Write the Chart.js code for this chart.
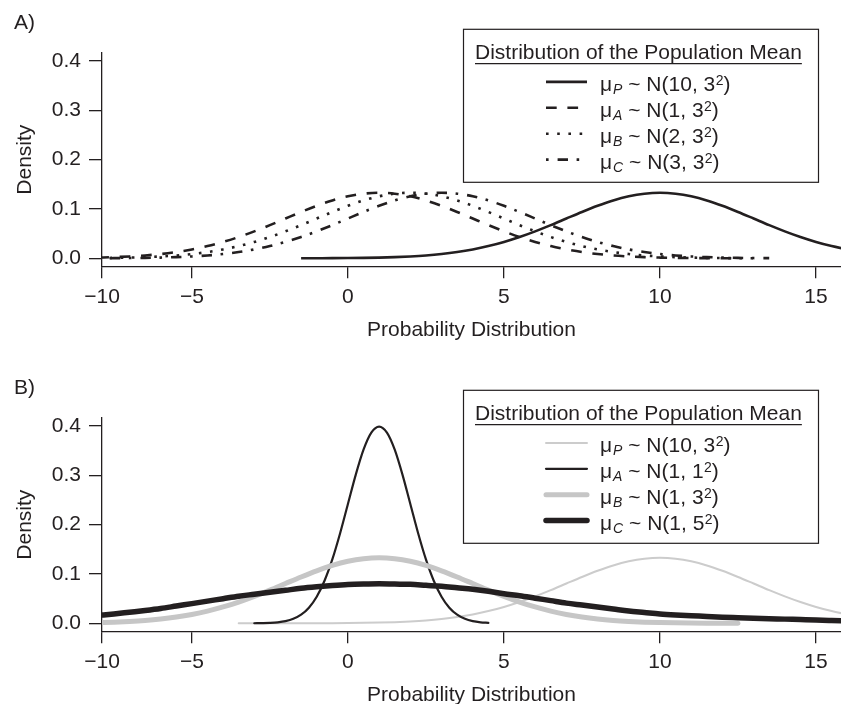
<!DOCTYPE html>
<html>
<head>
<meta charset="utf-8">
<script src="https://cdn.jsdelivr.net/npm/chart.js@4.4.1/dist/chart.umd.min.js"></script>
<style>
  html, body { margin: 0; padding: 0; background: #fff; overflow: hidden; width: 841px; height: 704px; }
  .panel { position: absolute; left: 0; width: 841px; height: 352px; }
  #panelA { top: 0; }
  #panelB { top: 365px; }
</style>
</head>
<body>
<div class="panel" id="panelA"><canvas id="chartA" width="841" height="352"></canvas></div>
<div class="panel" id="panelB"><canvas id="chartB" width="841" height="352"></canvas></div>
<script>
// x positions shared by most curves
const gridX = [-8, -7.5, -7, -6.5, -6, -5.5, -5, -4.5, -4, -3.5, -3, -2.5, -2, -1.5, -1, -0.5,
  0, 0.5, 1, 1.5, 2, 2.5, 3, 3.5, 4, 4.5, 5, 5.5, 6, 6.5, 7, 7.5, 8, 8.5, 9, 9.5,
  10, 10.5, 11, 11.5, 12, 12.5, 13, 13.5, 14, 14.5, 15, 15.5, 16];

// panel A densities (null = curve not drawn there)
const densityPA = [null, null, null, null, null, null, null, null, null, null, null, null, null,
  .0001, .0002, .0003, .0005, .0009, .0015, .0024, .0038, .0058, .0087, .0127, .0180, .0248, .0332,
  .0432, .0547, .0673, .0807, .0940, .1065, .1174, .1258, .1311, .1330, .1311, .1258, .1174, .1065,
  .0940, .0807, .0673, .0547, .0432, .0332, .0248, .0180];
const densityAA = [.0015, .0024, .0038, .0058, .0087, .0127, .0180, .0248, .0332, .0432, .0547, .0673,
  .0807, .0940, .1065, .1174, .1258, .1311, .1330, .1311, .1258, .1174, .1065, .0940, .0807, .0673,
  .0547, .0432, .0332, .0248, .0180, .0127, .0087, .0058, .0038, .0024, .0015, .0009, .0005, .0003,
  .0002, .0001, null, null, null, null, null, null, null];
const densityBA = [.0005, .0009, .0015, .0024, .0038, .0058, .0087, .0127, .0180, .0248, .0332, .0432,
  .0547, .0673, .0807, .0940, .1065, .1174, .1258, .1311, .1330, .1311, .1258, .1174, .1065, .0940,
  .0807, .0673, .0547, .0432, .0332, .0248, .0180, .0127, .0087, .0058, .0038, .0024, .0015, .0009,
  .0005, .0003, .0002, null, null, null, null, null, null];
const densityCA = [.0002, .0003, .0005, .0009, .0015, .0024, .0038, .0058, .0087, .0127, .0180, .0248,
  .0332, .0432, .0547, .0673, .0807, .0940, .1065, .1174, .1258, .1311, .1330, .1311, .1258, .1174,
  .1065, .0940, .0807, .0673, .0547, .0432, .0332, .0248, .0180, .0127, .0087, .0058, .0038, .0024,
  .0015, .0009, .0005, .0003, null, null, null, null, null];

// panel B densities
const densityPB = [null, null, null, null, null, null, null, null, null,
  .0000, .0000, .0000, .0000,
  .0001, .0002, .0003, .0005, .0009, .0015, .0024, .0038, .0058, .0087, .0127, .0180, .0248, .0332,
  .0432, .0547, .0673, .0807, .0940, .1065, .1174, .1258, .1311, .1330, .1311, .1258, .1174, .1065,
  .0940, .0807, .0673, .0547, .0432, .0332, .0248, .0180];
const narrowX = [-3, -2.75, -2.5, -2.25, -2, -1.75, -1.5, -1.25, -1, -0.75, -0.5, -0.25, 0, 0.25, 0.5,
  0.75, 1, 1.25, 1.5, 1.75, 2, 2.25, 2.5, 2.75, 3, 3.25, 3.5, 3.75, 4, 4.25, 4.5];
const densityAB = [.0001, .0004, .0009, .0020, .0044, .0091, .0175, .0317, .0540, .0863, .1295, .1826,
  .2420, .3011, .3521, .3867, .3989, .3867, .3521, .3011, .2420, .1826, .1295, .0863, .0540, .0317,
  .0175, .0091, .0044, .0020, .0009];
const densityBB = [.0015, .0024, .0038, .0058, .0087, .0127, .0180, .0248, .0332, .0432, .0547, .0673,
  .0807, .0940, .1065, .1174, .1258, .1311, .1330, .1311, .1258, .1174, .1065, .0940, .0807, .0673,
  .0547, .0432, .0332, .0248, .0180, .0127, .0087, .0058, .0038, .0024, .0015, .0009, .0005, .0003,
  .0002, .0001, null, null, null, null, null, null, null];
const densityCB = [.016, .019, .0225, .026, .030, .035, .040, .045, .050, .055, .059, .063, .067, .071,
  .074, .0765, .0785, .0795, .080, .0795, .079, .077, .075, .072, .069, .065, .060, .056, .051, .046,
  .041, .037, .033, .029, .025, .022, .019, .017, .0155, .014, .0125, .0115, .0105, .0095, .0085,
  .0075, .0065, .0058, .0052];

// axes
const xMin = -7.88, xMax = 15.8;
const xTickValues = [-7.88, -5, 0, 5, 10, 15];
const xTickLabels = ['\u221210', '\u22125', '0', '5', '10', '15'];
const yMin = -0.017, yMax = 0.417;
const yTickValues = [0, 0.1, 0.2, 0.3, 0.4];

// legend text
const legendTitle = 'Distribution of the Population Mean';
const legendSubs = ['P', 'A', 'B', 'C'];
const legendMeansA = ['10', '1', '2', '3'];
const legendSdsA = ['3', '3', '3', '3'];
const legendMeansB = ['10', '1', '1', '1'];
const legendSdsB = ['3', '1', '3', '5'];

const ink = '#231f20';
const fontFamily = '"Liberation Sans", Arial, sans-serif';
Chart.defaults.font.family = fontFamily;
Chart.defaults.font.size = 21;
Chart.defaults.color = ink;

function toPoints(xs, ys) {
  return xs.map((x, i) => ({ x: x, y: ys[i] })).filter(p => p.y !== null);
}

// legend box with sub/superscripts, plus the panel letter
const legendBox = {
  id: 'legendBox',
  afterDraw(chart, args, opts) {
    const ctx = chart.ctx;
    ctx.save();
    ctx.fillStyle = ink;
    ctx.textAlign = 'left';
    ctx.textBaseline = 'alphabetic';
    ctx.font = '21px ' + fontFamily;
    ctx.fillText(opts.panel, 14, 28.5);

    const top = opts.top;
    ctx.strokeStyle = ink;
    ctx.lineWidth = 1.2;
    ctx.strokeRect(463.5, top, 355, 153);

    ctx.fillText(legendTitle, 475, top + 29.2);
    const tw = ctx.measureText(legendTitle).width;
    ctx.beginPath();
    ctx.moveTo(475, top + 34.4);
    ctx.lineTo(475 + tw, top + 34.4);
    ctx.stroke();

    chart.data.datasets.forEach((ds, i) => {
      const ly = top + 52.6 + i * 25.9;
      ctx.save();
      ctx.strokeStyle = ds.borderColor;
      ctx.lineWidth = ds.borderWidth;
      ctx.lineCap = ds.borderCapStyle || 'butt';
      ctx.setLineDash(ds.borderDash || []);
      ctx.beginPath();
      ctx.moveTo(546, ly);
      ctx.lineTo(587, ly);
      ctx.stroke();
      ctx.restore();

      const by = ly + 9;
      let x = 600;
      ctx.font = '21px ' + fontFamily;
      ctx.fillText('\u03bc', x, by);
      x += ctx.measureText('\u03bc').width + 1;
      ctx.font = 'italic 14px ' + fontFamily;
      ctx.fillText(legendSubs[i], x, by + 3);
      x += ctx.measureText(legendSubs[i]).width;
      const mid = ' ~ N(' + opts.means[i] + ', ' + opts.sds[i];
      ctx.font = '21px ' + fontFamily;
      ctx.fillText(mid, x, by);
      x += ctx.measureText(mid).width + 0.5;
      ctx.font = '14px ' + fontFamily;
      ctx.fillText('2', x, by - 6);
      x += ctx.measureText('2').width;
      ctx.font = '21px ' + fontFamily;
      ctx.fillText(')', x, by);
    });
    ctx.restore();
  }
};

function buildOptions(legendCfg) {
  return {
    responsive: false,
    animation: false,
    events: [],
    layout: { padding: { top: 52.7, right: 0, bottom: 0, left: 0 } },
    elements: {
      point: { radius: 0 },
      line: { cubicInterpolationMode: 'monotone', borderJoinStyle: 'round', fill: false }
    },
    plugins: {
      legend: { display: false },
      tooltip: { enabled: false },
      legendBox: legendCfg
    },
    scales: {
      x: {
        type: 'linear',
        min: xMin,
        max: xMax,
        border: { color: ink, width: 1.3 },
        grid: { drawOnChartArea: false, color: ink, lineWidth: 1.3, tickLength: 11.6 },
        afterBuildTicks: s => { s.ticks = xTickValues.map(v => ({ value: v })); },
        afterFit: s => { s.height = 85.3; },
        ticks: {
          padding: 6.6, autoSkip: false, maxRotation: 0, color: ink,
          callback: (v, i) => xTickLabels[i]
        },
        title: {
          display: true, text: 'Probability Distribution', color: ink,
          padding: { top: 0, bottom: 9.4 }
        }
      },
      y: {
        type: 'linear',
        min: yMin,
        max: yMax,
        border: { color: ink, width: 1.3 },
        grid: { drawOnChartArea: false, color: ink, lineWidth: 1.3, tickLength: 13 },
        afterBuildTicks: s => { s.ticks = yTickValues.map(v => ({ value: v })); },
        afterFit: s => { s.width = 102; },
        ticks: { padding: 8, color: ink, callback: v => v.toFixed(1) },
        title: {
          display: true, text: 'Density', color: ink,
          padding: { top: 12.2, bottom: 0 }
        }
      }
    }
  };
}

new Chart(document.getElementById('chartA'), {
  type: 'line',
  data: {
    datasets: [
      { data: toPoints(gridX, densityPA), borderColor: ink, borderWidth: 2.6, borderDash: [], order: 4 },
      { data: toPoints(gridX, densityAA), borderColor: ink, borderWidth: 2.6, borderDash: [10.7, 10.7], order: 3 },
      { data: toPoints(gridX, densityBA), borderColor: ink, borderWidth: 2.6, borderDash: [2.6, 8.6], order: 2 },
      { data: toPoints(gridX, densityCA), borderColor: ink, borderWidth: 2.6, borderDash: [2.6, 9, 10.4, 8.6], order: 1 }
    ]
  },
  options: buildOptions({ panel: 'A)', top: 29.3, means: legendMeansA, sds: legendSdsA }),
  plugins: [legendBox]
});

new Chart(document.getElementById('chartB'), {
  type: 'line',
  data: {
    datasets: [
      { data: toPoints(gridX, densityPB), borderColor: '#cccccc', borderWidth: 2, borderCapStyle: 'round', order: 4 },
      { data: toPoints(narrowX, densityAB), borderColor: ink, borderWidth: 2.2, borderCapStyle: 'round', order: 3 },
      { data: toPoints(gridX, densityBB), borderColor: '#c6c6c6', borderWidth: 5, borderCapStyle: 'round', order: 2 },
      { data: toPoints(gridX, densityCB), borderColor: ink, borderWidth: 5.5, borderCapStyle: 'round', order: 1 }
    ]
  },
  options: buildOptions({ panel: 'B)', top: 25.3, means: legendMeansB, sds: legendSdsB }),
  plugins: [legendBox]
});
</script>
</body>
</html>
